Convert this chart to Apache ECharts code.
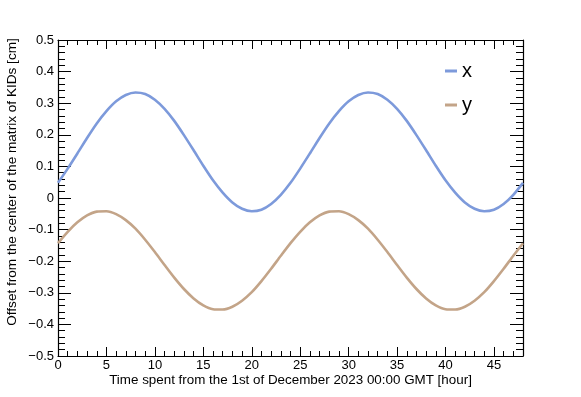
<!DOCTYPE html>
<html>
<head>
<meta charset="utf-8">
<script src="https://cdn.jsdelivr.net/npm/echarts@6/dist/echarts.min.js"></script>
<style>html,body{margin:0;padding:0;background:#fff}#c{width:581px;height:397px}</style>
</head>
<body>
<div id="c"></div>
<script>
const hours = [0,1,2,3,4,5,6,7,8,9,10,11,12,13,14,15,16,17,18,19,20,21,22,23,24,25,26,27,28,29,30,31,32,33,34,35,36,37,38,39,40,41,42,43,44,45,46,47,48];
const xOffset = [0.048,0.093,0.141,0.190,0.236,0.275,0.306,0.326,0.334,0.329,0.311,0.282,0.244,0.199,0.151,0.102,0.056,0.017,-0.014,-0.034,-0.042,-0.037,-0.019,0.010,0.048,0.093,0.141,0.190,0.236,0.275,0.306,0.326,0.334,0.329,0.311,0.282,0.244,0.199,0.151,0.102,0.056,0.017,-0.014,-0.034,-0.042,-0.037,-0.019,0.010,0.048];
const yOffset = [-0.143,-0.107,-0.077,-0.055,-0.043,-0.042,-0.051,-0.070,-0.097,-0.132,-0.171,-0.212,-0.252,-0.288,-0.318,-0.340,-0.352,-0.353,-0.344,-0.325,-0.298,-0.263,-0.224,-0.183,-0.143,-0.107,-0.077,-0.055,-0.043,-0.042,-0.051,-0.070,-0.097,-0.132,-0.171,-0.212,-0.252,-0.288,-0.318,-0.340,-0.352,-0.353,-0.344,-0.325,-0.298,-0.263,-0.224,-0.183,-0.143];
const xTitle = 'Time spent from the 1st of December 2023 00:00 GMT [hour]';
const yTitle = 'Offset from the center of the matrix of KIDs [cm]';

const FONT = '"Liberation Sans", Arial, sans-serif';
const chart = echarts.init(document.getElementById('c'), null, {renderer: 'canvas'});

function xAx(pos, interval, len, labels, line) {
  return {
    type: 'value', position: pos, min: 0, max: 48, interval: interval,
    axisLine: {show: line, onZero: false, lineStyle: {color: '#000', width: 1.2}},
    axisTick: {show: true, inside: true, length: len, lineStyle: {color: '#000', width: 1}},
    axisLabel: labels ? {show: true, color: '#000', fontFamily: FONT, fontSize: 13, margin: 3, showMaxLabel: false} : {show: false},
    splitLine: {show: false}
  };
}
function yAx(pos, interval, len, labels, line) {
  return {
    type: 'value', position: pos, min: -0.5, max: 0.5, interval: interval,
    axisLine: {show: line, onZero: false, lineStyle: {color: '#000', width: 1.2}},
    axisTick: {show: true, inside: true, length: len, lineStyle: {color: '#000', width: 1}},
    axisLabel: labels ? {show: true, color: '#000', fontFamily: FONT, fontSize: 13, margin: 4,
      formatter: v => { const r = Math.round(v * 10) / 10; return r === 0 ? '0' : (r < 0 ? '\u2212' + Math.abs(r).toFixed(1) : r.toFixed(1)); }} : {show: false},
    splitLine: {show: false}
  };
}

const xAxes = [xAx('bottom', 5, 9, true, true), xAx('bottom', 1, 5, false, false), xAx('top', 5, 9, false, true), xAx('top', 1, 5, false, false)];
const yAxes = [yAx('left', 0.1, 13, true, true), yAx('left', 0.02, 7, false, false), yAx('right', 0.1, 13, false, true), yAx('right', 0.02, 7, false, false)];

chart.setOption({
  animation: false,
  backgroundColor: '#fff',
  grid: {left: 58, right: 58, top: 40, bottom: 41},
  xAxis: xAxes,
  yAxis: yAxes,
  legend: {
    orient: 'vertical', left: 440, top: 56, itemGap: 14,
    icon: 'rect', itemWidth: 12, itemHeight: 3,
    textStyle: {fontFamily: FONT, fontSize: 20, color: '#000'},
    data: ['x', 'y']
  },
  graphic: [
    {type: 'text', left: 'center', top: 374, style: {text: xTitle, font: '13.4px ' + FONT, fill: '#000'}},
    {type: 'text', x: 5, y: 182, rotation: Math.PI / 2, style: {text: yTitle, font: '13.6px ' + FONT, fill: '#000', align: 'center', verticalAlign: 'top'}}
  ],
  series: [
    {name: 'x', type: 'line', xAxisIndex: 0, yAxisIndex: 0, showSymbol: false, smooth: 0.25,
      data: hours.map((h, i) => [h, xOffset[i]]), lineStyle: {color: '#7d9adb', width: 2.6}, itemStyle: {color: '#7d9adb'}},
    {name: 'y', type: 'line', xAxisIndex: 0, yAxisIndex: 0, showSymbol: false, smooth: 0.25,
      data: hours.map((h, i) => [h, yOffset[i]]), lineStyle: {color: '#c3a488', width: 2.6}, itemStyle: {color: '#c3a488'}}
  ]
});
</script>
</body>
</html>
